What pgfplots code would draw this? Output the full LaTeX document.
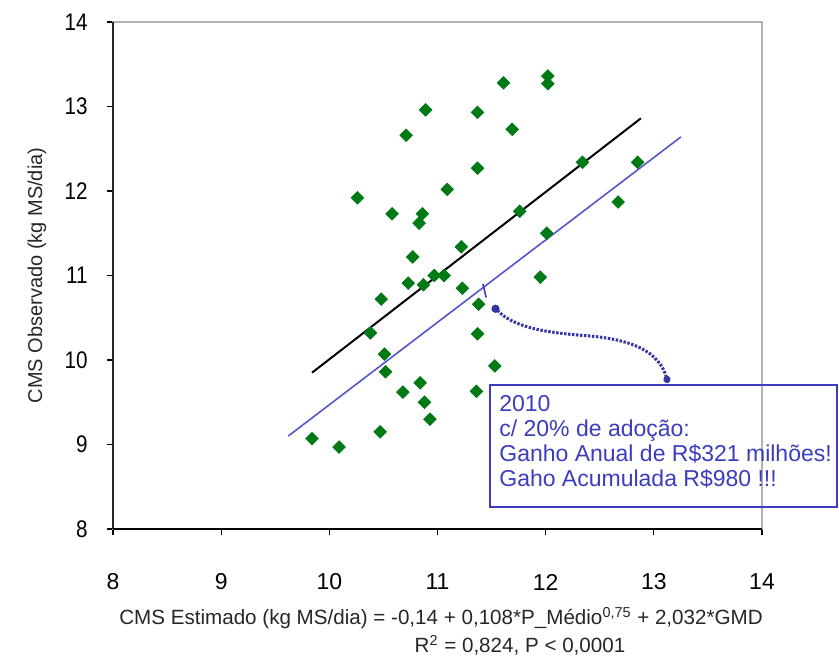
\documentclass[border=0pt]{standalone}
\usepackage{fontspec}
\setmainfont{Liberation Sans}
\newfontfamily\narrowfont[FakeStretch=0.86]{Liberation Sans}
\usepackage{pgfplots}
\pgfplotsset{compat=1.18}
\usetikzlibrary{arrows.meta}
\definecolor{ptgreen}{RGB}{0,122,20}
\definecolor{fitblue}{RGB}{85,85,205}
\definecolor{noteblue}{RGB}{60,60,190}

\pgfplotstableread{
x y
9.84 9.07
10.09 8.97
10.26 11.92
10.38 10.32
10.47 9.15
10.48 10.72
10.51 10.07
10.52 9.86
10.58 11.73
10.68 9.62
10.71 12.66
10.73 10.91
10.77 11.22
10.83 11.62
10.84 9.73
10.86 11.73
10.87 10.89
10.88 9.50
10.89 12.96
10.93 9.30
10.97 11.00
11.06 11.00
11.09 12.02
11.22 11.34
11.23 10.85
11.36 9.63
11.37 10.31
11.37 12.27
11.37 12.93
11.38 10.66
11.53 9.93
11.61 13.28
11.69 12.73
11.76 11.76
11.95 10.98
12.01 11.50
12.02 13.27
12.02 13.36
12.34 12.34
12.67 11.87
12.85 12.34
}\obs

\begin{document}
\begin{tikzpicture}
\useasboundingbox (-56.5pt,-64.5pt) rectangle (363pt,264.5pt);
\begin{axis}[
  at={(0,0)}, anchor=south west,
  scale only axis, width=324.5pt, height=253.5pt,
  xmin=8, xmax=14, ymin=8, ymax=14,
  xtick={8,9,...,14}, ytick={8,9,...,14},
  axis line style={gray!60, line width=0.7pt},
  tick align=outside, xtick pos=left, ytick pos=left,
  major tick length=3pt,
  tick style={black, line width=0.6pt},
  /pgf/number format/assume math mode=true,
  xticklabel style={font=\fontsize{11.5}{13}\selectfont, anchor=center, inner sep=0pt, yshift=-23.5pt},
  yticklabel style={font=\narrowfont\fontsize{12}{14}\selectfont, anchor=east, inner sep=0pt, xshift=-9.5pt},
  clip=false,
]
  \addplot[black, line width=1pt] coordinates {(9.84,9.85) (12.88,12.86)};
  \addplot[fitblue, line width=0.8pt] coordinates {(9.62,9.10) (13.25,12.64)};
  \addplot[only marks, mark=square*, mark size=2.2pt,
    mark options={rotate=45, fill=ptgreen, draw=ptgreen}] table[x=x, y=y] {\obs};

  \draw[black!85, line width=1pt] (rel axis cs:0,1) -- (rel axis cs:0,0);
  \draw[black, line width=1.4pt] (rel axis cs:0,0) -- (rel axis cs:1,0);

  % annotation
  \draw[noteblue, line width=1pt] (axis cs:11.485,8.26) rectangle (axis cs:14.69,9.704);
  \node[anchor=north west, text=noteblue, align=left, inner xsep=4.5pt, inner ysep=5pt,
    font=\fontsize{11.5}{12.5}\selectfont] at (axis cs:11.485,9.704)
    {2010\\c/ 20\% de adoção:\\Ganho Anual de R\$321 milhões!\\Gaho Acumulada R\$980 !!!};
  \draw[noteblue, line width=0.8pt] (axis cs:11.42,10.90) -- (axis cs:11.45,10.74);
  \draw[noteblue!85!black, line width=1.5pt, dash pattern=on 1.2pt off 0.8pt,
    {Circle[length=4pt]}-{Circle[length=3.5pt]}]
    (axis cs:11.51,10.64) .. controls (axis cs:11.7,10.4) and (axis cs:11.95,10.33)
    .. (axis cs:12.35,10.29) .. controls (axis cs:12.8,10.25) and (axis cs:13.05,10.1)
    .. (axis cs:13.13,9.73);
\end{axis}
\node[rotate=90, font=\fontsize{10}{12}\selectfont, text=black!85] at (-38pt,126.75pt) {CMS Observado (kg MS/dia)};
\node[font=\fontsize{10.3}{12}\selectfont, text=black!85] at (164pt,-44.5pt)
  {CMS Estimado (kg MS/dia) = -0,14 + 0,108*P\_Médio\textsuperscript{0,75} + 2,032*GMD};
\node[font=\fontsize{10.3}{12}\selectfont, text=black!85] at (203.5pt,-58pt)
  {R\textsuperscript{2} = 0,824, P < 0,0001};
\end{tikzpicture}
\end{document}
